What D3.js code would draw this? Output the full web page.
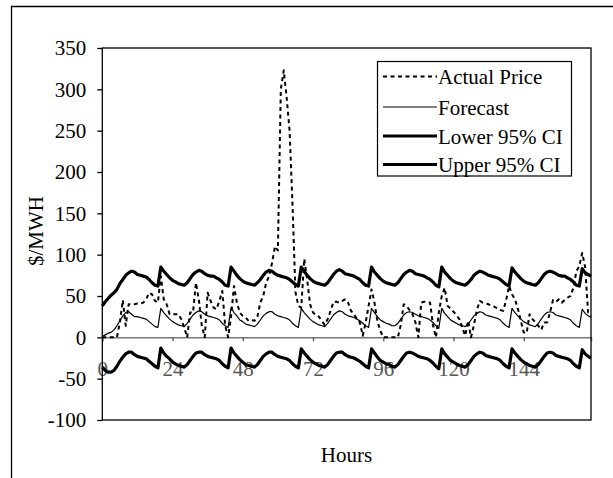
<!DOCTYPE html>
<html><head><meta charset="utf-8">
<script src="https://cdn.jsdelivr.net/npm/d3@7"></script>
<style>
body{margin:0;background:#fff}
svg{display:block}
text{font-family:"Liberation Serif","Times New Roman",serif}
</style>
</head><body>
<svg id="c" width="613" height="478"></svg>
<script>
// ---- data ----
const hours = d3.range(168);
const actualPrice = [
  0,0,0,0,0,0,18,45,14,40,40,40,41,41,42,46,54,52,44,42,74,46,40,28,
  28,28,28,22,12,0,30,30,66,45,14,0,54,44,36,34,44,56,14,0,25,62,42,30,
  26,24,20,21,20,25,42,50,66,74,90,110,105,300,323,290,250,160,55,38,36,95,70,40,
  30,27,25,20,15,22,32,43,43,42,44,46,42,32,28,22,18,2,18,38,58,42,20,8,
  0,0,0,0,0,0,15,40,38,33,28,18,0,42,43,43,42,15,0,30,50,60,38,35,
  31,27,22,12,2,20,0,15,33,44,42,41,40,38,37,35,33,32,45,62,52,46,35,20,
  6,5,28,22,18,14,9,18,18,30,45,43,46,42,45,48,50,60,80,86,102,85,30,26
];
const forecast = [
  1,3,5,6,9,14,20,26,30,31,28,25,25,24,23,22,19,16,13,12,35,30,26,22,
  19,17,15,14,13,17,22,27,30,32,31,28,26,25,24,23,21,17,14,12,36,30,26,21,
  19,16,15,14,13,16,21,26,29,31,31,28,26,25,24,23,21,17,14,12,35,30,26,22,
  19,17,15,14,13,17,22,27,30,32,31,28,26,25,24,22,20,17,14,12,35,30,25,21,
  19,17,16,14,14,17,22,27,30,31,30,28,26,25,24,23,21,18,14,11,35,29,25,21,
  19,17,15,14,13,16,21,26,29,31,30,27,26,25,24,23,21,17,14,12,35,30,26,22,
  19,17,15,14,13,17,22,27,30,31,30,27,26,25,24,23,21,17,14,12,34,29,26,24
];
const lower95 = [
  -36,-40,-42,-42,-40,-35,-29,-24,-20,-18,-18,-21,-23,-24,-25,-26,-29,-32,-35,-37,-13,-19,-23,-26,
  -30,-32,-34,-35,-36,-33,-28,-23,-19,-18,-18,-21,-23,-24,-25,-26,-28,-32,-35,-37,-13,-19,-23,-27,
  -30,-33,-34,-35,-36,-33,-28,-23,-20,-18,-18,-21,-23,-24,-25,-26,-28,-32,-35,-37,-14,-19,-23,-27,
  -30,-32,-34,-35,-36,-33,-28,-23,-19,-18,-18,-21,-23,-24,-25,-27,-29,-32,-35,-37,-14,-19,-24,-28,
  -30,-32,-33,-35,-36,-33,-28,-23,-19,-18,-19,-21,-23,-24,-25,-26,-28,-31,-35,-38,-14,-20,-24,-28,
  -30,-32,-34,-35,-36,-33,-28,-23,-20,-18,-19,-22,-23,-24,-25,-26,-28,-32,-35,-37,-14,-19,-23,-27,
  -30,-32,-34,-35,-36,-33,-28,-23,-19,-18,-19,-22,-23,-24,-25,-26,-28,-32,-35,-37,-15,-20,-23,-25
];
const upper95 = [
  38,43,47,51,54,58,65,70,75,78,80,79,76,75,74,73,70,66,63,62,85,80,76,72,
  69,67,65,64,63,66,71,76,79,81,80,77,75,74,74,72,70,67,63,62,85,80,75,71,
  68,66,65,64,63,66,70,75,79,81,80,77,75,74,73,72,70,67,64,62,85,80,75,71,
  68,66,65,64,63,66,71,76,80,82,80,77,76,75,74,72,70,66,63,62,85,79,75,71,
  68,66,65,64,63,66,71,76,79,81,80,77,76,75,74,72,70,67,63,61,85,79,75,71,
  68,66,65,64,63,66,70,75,78,80,79,77,75,74,73,72,70,67,64,62,84,79,75,71,
  68,66,65,64,63,66,71,76,79,80,79,77,75,74,74,72,70,67,63,62,83,78,76,74
];
const xTickValues = [0,24,48,72,96,120,144];
const yTickValues = [-100,-50,0,50,100,150,200,250,300,350];
const seriesNames = ["Actual Price","Forecast","Lower 95% CI","Upper 95% CI"];

// ---- chart ----
const svg = d3.select("#c");
const FS = 21;
const x = d3.scaleLinear().domain([0,167]).range([102.3,591]);
const y = d3.scaleLinear().domain([-100,350]).range([420,48]);
const fmt = d => String(d);

// outer frame (left + top)
svg.append("path").attr("d","M11.5,478V6.5H613").attr("fill","none").attr("stroke","#000").attr("stroke-width",1.3);

// y axis
const ya = svg.append("g").attr("transform",`translate(${x(0)},0)`)
  .call(d3.axisLeft(y).tickValues(yTickValues).tickSize(5).tickPadding(11).tickFormat(fmt));
ya.select(".domain").remove();
ya.selectAll(".tick line").attr("stroke","#000").attr("stroke-width",1.3);
ya.selectAll(".tick text").attr("font-size",FS).attr("font-family","Liberation Serif").attr("fill","#000");

// x axis on zero line
const xa = svg.append("g").attr("transform",`translate(0,${y(0)})`)
  .call(d3.axisBottom(x).tickValues(xTickValues).tickSize(4).tickPadding(20).tickFormat(fmt));
xa.select(".domain").attr("stroke","#777").attr("stroke-width",1.5);
xa.selectAll(".tick line").attr("stroke","#555").attr("stroke-width",1.3);
xa.selectAll(".tick text").attr("font-size",FS).attr("font-family","Liberation Serif").attr("fill","#555");

// plot frame
svg.append("rect").attr("x",x(0)).attr("y",y(350)).attr("width",x(167)-x(0)).attr("height",y(-100)-y(350))
  .attr("fill","none").attr("stroke","#000").attr("stroke-width",1.3);

// lines
const line = d3.line().x((d,i)=>x(hours[i])).y(d=>y(d));
const styles = [
  {data:actualPrice, w:2, dash:"4,3.5"},
  {data:forecast, w:1.2, dash:null},
  {data:lower95, w:3.2, dash:null},
  {data:upper95, w:3.2, dash:null}
];
styles.forEach(s=>{
  svg.append("path").datum(s.data).attr("d",line).attr("fill","none")
    .attr("stroke","#000").attr("stroke-width",s.w).attr("stroke-linejoin","round")
    .attr("stroke-dasharray",s.dash);
});

// axis titles
svg.append("text").attr("x",346.5).attr("y",461.5).attr("text-anchor","middle").attr("font-size",FS).text("Hours");
svg.append("text").attr("transform","translate(43,231) rotate(-90)").attr("text-anchor","middle").attr("font-size",FS).text("$/MWH");

// legend
const lg = svg.append("g");
lg.append("rect").attr("x",377.5).attr("y",61.5).attr("width",194).attr("height",114.5)
  .attr("fill","#fff").attr("stroke","#000").attr("stroke-width",1.2);
const lgBase = [84,114.5,143.5,172];
seriesNames.forEach((n,i)=>{
  const yy = lgBase[i];
  lg.append("line").attr("x1",383).attr("x2",437).attr("y1",yy-7.5).attr("y2",yy-7.5)
    .attr("stroke","#000").attr("stroke-width",styles[i].w).attr("stroke-dasharray",styles[i].dash);
  lg.append("text").attr("x",438).attr("y",yy).attr("font-size",FS).text(n);
});
</script>
</body></html>
